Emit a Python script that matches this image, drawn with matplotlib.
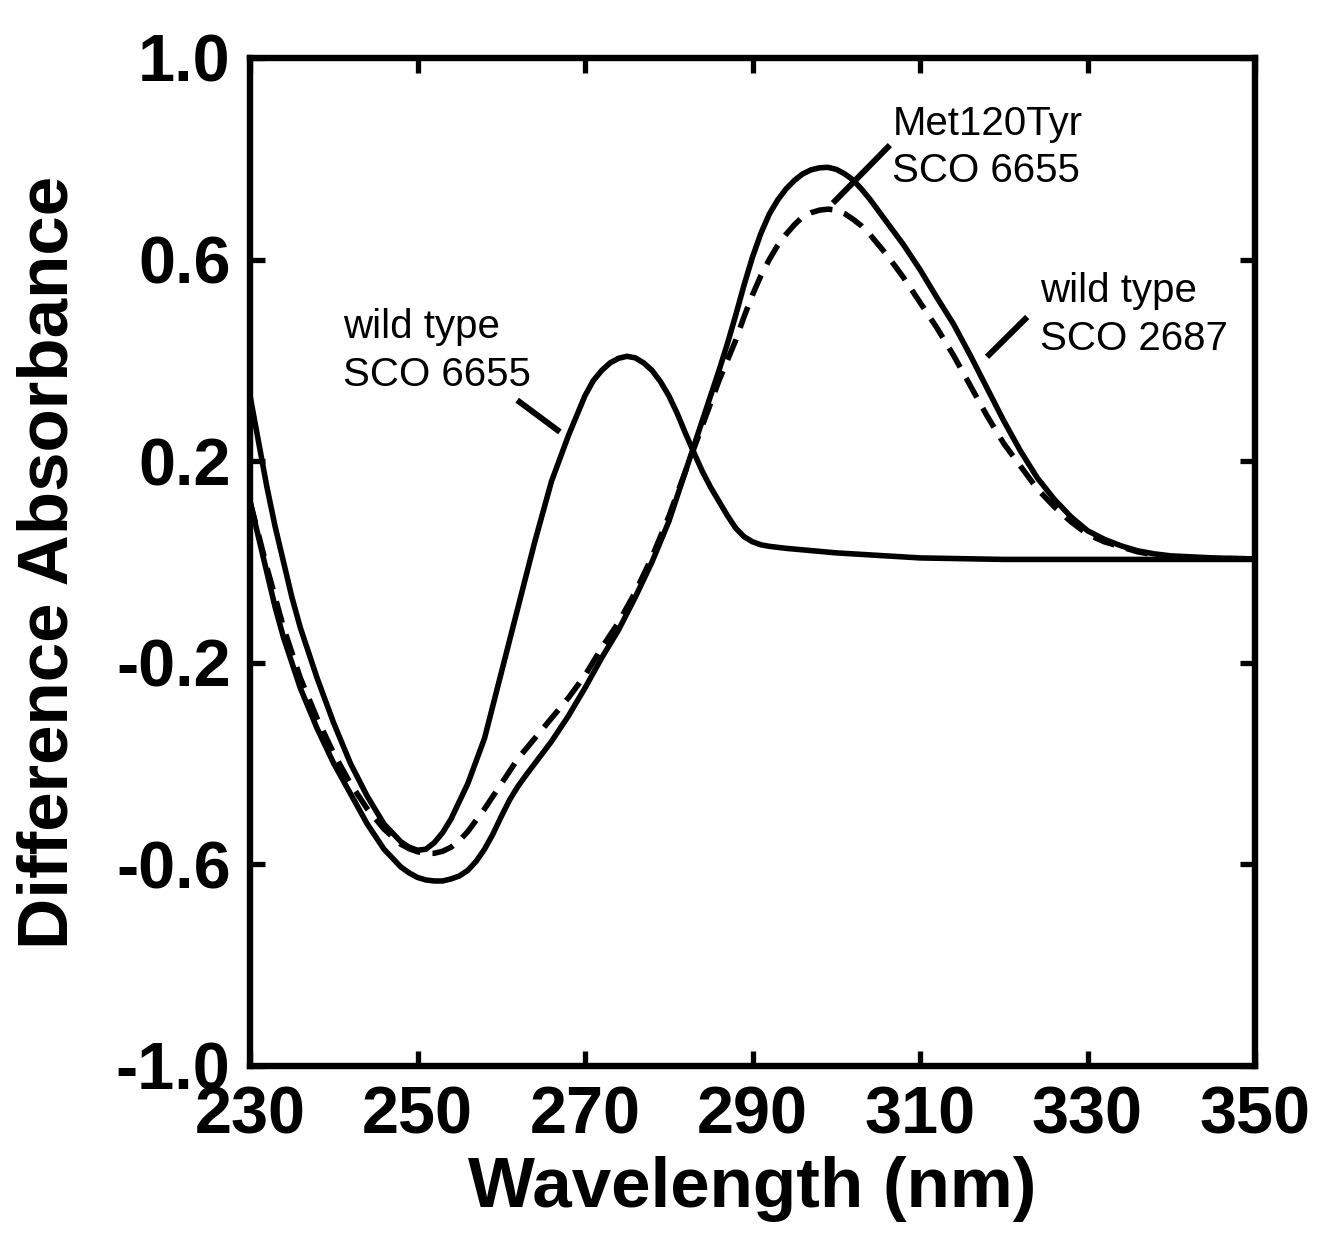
import matplotlib
matplotlib.use("Agg")
import matplotlib.pyplot as plt

plt.rcParams['font.family'] = ['Liberation Sans', 'DejaVu Sans']
plt.rcParams['axes.unicode_minus'] = False

# ---- data ----
wl_wt6655 = [230, 231, 232, 233, 234, 235, 236, 237, 238, 240, 242, 244, 246, 248, 249, 250, 251,
             252, 253, 254, 256, 258, 260, 262, 264, 266, 268, 270, 271, 272, 273, 274, 275, 276,
             277, 278, 279, 280, 281, 282, 283, 284, 285, 286, 287, 288, 289, 290, 291, 292, 294,
             296, 300, 305, 310, 320, 330, 340, 350]
abs_wt6655 = [0.33, 0.24, 0.15, 0.07, 0.0, -0.07, -0.13, -0.18, -0.23, -0.32, -0.40, -0.465,
              -0.52, -0.555, -0.566, -0.572, -0.57, -0.557, -0.537, -0.51, -0.44, -0.35, -0.22,
              -0.09, 0.04, 0.16, 0.25, 0.33, 0.36, 0.38, 0.395, 0.404, 0.408, 0.405, 0.395,
              0.38, 0.358, 0.33, 0.295, 0.255, 0.217, 0.18, 0.148, 0.12, 0.092, 0.067, 0.05,
              0.04, 0.034, 0.031, 0.027, 0.024, 0.018, 0.013, 0.008, 0.005, 0.005, 0.005, 0.005]

wl_wt2687 = [230, 231, 232, 233, 234, 236, 238, 240, 242, 244, 246, 248, 249, 250, 251, 252, 253,
             254, 255, 256, 257, 258, 259, 260, 261, 262, 263, 264, 265, 266, 268, 270, 272, 274,
             276, 278, 280, 282, 284, 286, 287, 288, 289, 290, 291, 292, 293, 294, 295, 296, 297,
             298, 299, 300, 301, 302, 303, 304, 306, 308, 310, 312, 314, 316, 318, 320, 322, 324,
             326, 328, 330, 332, 334, 336, 338, 340, 345, 350]
abs_wt2687 = [0.12, 0.05, -0.02, -0.09, -0.15, -0.25, -0.33, -0.40, -0.46, -0.52, -0.57, -0.605,
              -0.617, -0.626, -0.631, -0.633, -0.633, -0.629, -0.623, -0.612, -0.594, -0.57,
              -0.54, -0.505, -0.472, -0.445, -0.422, -0.40, -0.378, -0.356, -0.306, -0.25, -0.19,
              -0.135, -0.07, 0.0, 0.08, 0.18, 0.28, 0.38, 0.433, 0.49, 0.55, 0.605, 0.652, 0.69,
              0.718, 0.74, 0.757, 0.77, 0.778, 0.782, 0.783, 0.779, 0.77, 0.758, 0.74, 0.72,
              0.675, 0.63, 0.58, 0.525, 0.472, 0.41, 0.345, 0.28, 0.22, 0.167, 0.125, 0.09, 0.062,
              0.045, 0.032, 0.022, 0.016, 0.012, 0.008, 0.006]

wl_met120tyr = [230, 231, 232, 233, 234, 236, 238, 240, 242, 244, 246, 248, 249, 250, 251, 252,
                253, 254, 255, 256, 258, 260, 262, 264, 266, 268, 270, 272, 274, 276, 278, 280,
                282, 284, 286, 287, 288, 289, 290, 291, 292, 293, 294, 295, 296, 297, 298, 299,
                300, 301, 302, 303, 304, 306, 308, 310, 312, 314, 316, 318, 320, 322, 324, 326,
                328, 330, 332, 334, 336, 338, 340, 345, 350]
abs_met120tyr = [0.12, 0.055, -0.01, -0.07, -0.13, -0.23, -0.31, -0.38, -0.44, -0.49, -0.53,
                 -0.56, -0.569, -0.575, -0.578, -0.578, -0.574, -0.566, -0.553, -0.535, -0.49,
                 -0.44, -0.39, -0.35, -0.31, -0.27, -0.225, -0.17, -0.12, -0.06, 0.01, 0.09,
                 0.18, 0.27, 0.36, 0.40, 0.44, 0.487, 0.53, 0.568, 0.60, 0.628, 0.65, 0.669,
                 0.685, 0.693, 0.698, 0.70, 0.698, 0.691, 0.68, 0.667, 0.65, 0.61, 0.565, 0.515,
                 0.465, 0.41, 0.35, 0.29, 0.235, 0.19, 0.145, 0.11, 0.08, 0.055, 0.04, 0.03,
                 0.02, 0.014, 0.01, 0.007, 0.006]

x_ticks = [230, 250, 270, 290, 310, 330, 350]
y_ticks = [-1.0, -0.6, -0.2, 0.2, 0.6, 1.0]

# label texts: (x, y baseline, text)
labels = [
    (241.1, 0.444, "wild type"), (241.1, 0.349, "SCO 6655"),
    (306.7, 0.847, "Met120Tyr"), (306.7, 0.754, "SCO 6655"),
    (324.3, 0.516, "wild type"), (324.3, 0.421, "SCO 2687"),
]
pointers = [
    ((261.9, 0.321), (267.0, 0.258)),
    ((306.4, 0.827), (299.6, 0.712)),
    ((322.8, 0.486), (318.0, 0.407)),
]

# ---- figure ----
fig = plt.figure(figsize=(13.18, 12.46), dpi=100)
ax = fig.add_axes([0.1897, 0.1445, 0.9522 - 0.1897, 0.9535 - 0.1445])

lw = 4.0
ax.plot(wl_wt6655, abs_wt6655, color='black', lw=lw, solid_joinstyle='round')
ax.plot(wl_wt2687, abs_wt2687, color='black', lw=lw, solid_joinstyle='round')
ax.plot(wl_met120tyr, abs_met120tyr, color='black', lw=lw, dashes=(4, 2.2))

for x, y, t in labels:
    ax.text(x, y, t, fontsize=29, ha='left', va='baseline', color='black')
for (x0, y0), (x1, y1) in pointers:
    ax.plot([x0, x1], [y0, y1], color='black', lw=4.3, solid_capstyle='butt')

ax.set_xlim(230, 350)
ax.set_ylim(-1.0, 1.0)
ax.set_xticks(x_ticks)
ax.set_yticks(y_ticks)
ax.set_yticklabels([f"{v:.1f}" for v in y_ticks])
ax.tick_params(direction='in', length=11, width=3.8, top=True, right=True,
               labelsize=48, pad=14)
for lab in ax.get_xticklabels() + ax.get_yticklabels():
    lab.set_fontweight('bold')
for s in ax.spines.values():
    s.set_linewidth(4.6)

ax.set_xlabel("Wavelength (nm)", fontsize=51, fontweight='bold', labelpad=6)
ax.set_ylabel("Difference Absorbance", fontsize=51, fontweight='bold', labelpad=24)

fig.savefig("out.png", dpi=100)
